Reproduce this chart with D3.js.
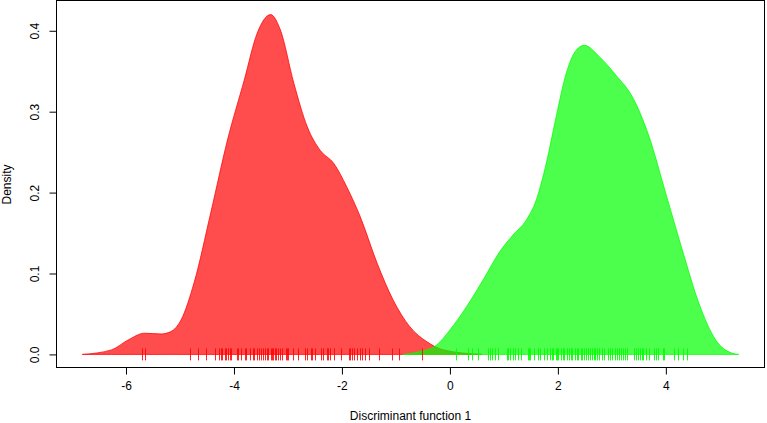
<!DOCTYPE html>
<html>
<head>
<meta charset="utf-8">
<script src="https://cdn.jsdelivr.net/npm/d3@7"></script>
<style>
  body { margin: 0; background: #fff; }
  svg text { font-family: "Liberation Sans", Arial, sans-serif; font-size: 12px; fill: #000; }
</style>
</head>
<body>
<div id="container"></div>
<script>
/* Data */

// density curve of group 1 (red), x = discriminant score, y = density
var redX = [-6.81, -6.27, -5.96, -5.66, -5.35, -5.17, -4.98, -4.74, -4.43, -4.12, -3.81, -3.57, -3.32,
	-3.14, -2.89, -2.64, -2.40, -2.15, -1.91, -1.66, -1.35, -1.05, -0.74, -0.43, -0.12, 0.585];
var redY = [0, 0.0056, 0.0179, 0.0262, 0.0253, 0.0282, 0.0426, 0.0883, 0.175, 0.265, 0.339, 0.397, 0.420,
	0.401, 0.335, 0.281, 0.252, 0.236, 0.207, 0.170, 0.113, 0.067, 0.034, 0.0158, 0.0056, 0];

// density curve of group 2 (green)
var greenX = [-0.867, -0.554, -0.245, 0, 0.308, 0.614, 0.923, 1.168, 1.415, 1.60, 1.784, 1.969, 2.153,
	2.338, 2.491, 2.768, 3.076, 3.382, 3.69, 3.998, 4.305, 4.613, 4.921, 5.227, 5.35];
var greenY = [0, 0.0035, 0.0117, 0.0302, 0.059, 0.092, 0.127, 0.1475, 0.166, 0.191, 0.236, 0.294, 0.347,
	0.376, 0.382, 0.368, 0.345, 0.318, 0.269, 0.199, 0.129, 0.063, 0.018, 0.0015, 0];

// rug: individual scores
var redRug = [-5.71, -5.64, -4.81, -4.67, -4.51, -4.35, -4.27, -4.24, -4.22, -4.16, -4.14, -4.11, -4.08, -4.06,
	-3.94, -3.92, -3.87, -3.80, -3.77, -3.71, -3.65, -3.62, -3.58, -3.54, -3.49, -3.46, -3.43, -3.39, -3.37,
	-3.32, -3.29, -3.27, -3.24, -3.22, -3.18, -3.14, -3.11, -3.04, -3.01, -2.99, -2.91, -2.82, -2.69, -2.64,
	-2.58, -2.56, -2.50, -2.38, -2.36, -2.27, -2.25, -2.23, -2.15, -2.02, -1.86, -1.85, -1.81, -1.77, -1.73,
	-1.67, -1.62, -1.57, -1.49, -1.32, -1.07, -0.94, -0.52];
var greenRug = [0.12, 0.34, 0.40, 0.52, 0.71, 0.75, 0.78, 0.83, 0.90, 1.05, 1.08, 1.12, 1.17, 1.21, 1.26, 1.32,
	1.44, 1.47, 1.49, 1.55, 1.64, 1.67, 1.75, 1.80, 1.86, 1.89, 1.91, 1.96, 1.99, 2.01, 2.05, 2.09, 2.12, 2.16,
	2.21, 2.25, 2.27, 2.32, 2.36, 2.38, 2.42, 2.45, 2.49, 2.52, 2.55, 2.59, 2.63, 2.66, 2.69, 2.73, 2.77, 2.81,
	2.86, 2.92, 2.96, 3.01, 3.05, 3.09, 3.14, 3.17, 3.21, 3.25, 3.28, 3.41, 3.45, 3.49, 3.52, 3.55, 3.58, 3.63,
	3.68, 3.78, 3.82, 3.86, 3.94, 3.97, 4.16, 4.23, 4.32, 4.39];

var xTicks = [-6, -4, -2, 0, 2, 4];
var yTicks = [0, 0.1, 0.2, 0.3, 0.4];

/* Setup */
var w = 767, h = 423;
var box = { left: 56, right: 765, top: 1, bottom: 368 };

var svg = d3.select('#container').append('svg')
	.attr('width', w)
	.attr('height', h);

// R style: limits padded 4% beyond the data range
var xMin = d3.min(redX), xMax = d3.max(greenX),
	xPad = (xMax - xMin) * 0.04,
	yMax = d3.max(redY.concat(greenY)),
	yPad = yMax * 0.04;

var xScale = d3.scaleLinear()
		.domain([xMin - xPad, xMax + xPad])
		.range([box.left, box.right]),
	yScale = d3.scaleLinear()
		.domain([-yPad, yMax + yPad])
		.range([box.bottom, box.top]);

/* Density areas */
var area = d3.area()
	.x(d => xScale(d.x))
	.y0(yScale(0))
	.y1(d => yScale(d.y))
	.curve(d3.curveMonotoneX);

var redData = redX.map((x, i) => ({ x: x, y: redY[i] })),
	greenData = greenX.map((x, i) => ({ x: x, y: greenY[i] }));

svg.append('path')
	.attr('d', area(redData))
	.attr('fill', 'rgba(255,0,0,0.7)')
	.attr('stroke', 'rgba(255,0,0,0.75)')
	.attr('stroke-width', 1);

svg.append('path')
	.attr('d', area(greenData))
	.attr('fill', 'rgba(0,255,0,0.7)')
	.attr('stroke', 'rgba(0,255,0,0.75)')
	.attr('stroke-width', 1);

/* Rugs */
function rug(values, colour) {
	svg.append('g')
		.selectAll('line')
		.data(values)
		.enter().append('line')
		.attr('x1', d => Math.round(xScale(d)) + 0.5)
		.attr('x2', d => Math.round(xScale(d)) + 0.5)
		.attr('y1', yScale(0) - 6)
		.attr('y2', yScale(0) + 6)
		.attr('stroke', colour)
		.attr('stroke-width', 1);
}
rug(redRug, 'rgba(255,0,0,0.85)');
rug(greenRug, 'rgba(0,255,0,0.9)');

/* Box */
svg.append('rect')
	.attr('x', box.left + 0.5)
	.attr('y', box.top - 0.5)
	.attr('width', box.right - box.left - 1)
	.attr('height', box.bottom - box.top)
	.attr('fill', 'none')
	.attr('stroke', '#000');

/* Axes */
var xAxis = d3.axisBottom(xScale)
	.tickValues(xTicks)
	.tickSize(7)
	.tickPadding(7)
	.tickFormat(d3.format('d'));

svg.append('g')
	.classed('xaxis', true)
	.attr('transform', 'translate(0,' + (box.bottom - 0.5) + ')')
	.call(xAxis)
	.call(g => g.select('.domain').remove())
	.selectAll('text')
		.style('font-size', '12px')
		.text(d => d < 0 ? '-' + Math.abs(d) : d);

var yAxis = d3.axisLeft(yScale)
	.tickValues(yTicks)
	.tickSize(7)
	.tickFormat(d3.format('.1f'));

var yG = svg.append('g')
	.classed('yaxis', true)
	.attr('transform', 'translate(' + (box.left + 0.5) + ',0)')
	.call(yAxis);
yG.select('.domain').remove();
yG.selectAll('text')
	.attr('x', null)
	.attr('dy', null)
	.attr('transform', 'translate(-21,0) rotate(-90)')
	.attr('text-anchor', 'middle')
	.attr('dominant-baseline', 'middle')
	.style('font-size', '12px');

/* Titles */
svg.append('text')
	.attr('x', (box.left + box.right) / 2)
	.attr('y', 420)
	.attr('text-anchor', 'middle')
	.text('Discriminant function 1');

svg.append('text')
	.attr('transform', 'translate(8,' + (box.top + box.bottom) / 2 + ') rotate(-90)')
	.attr('text-anchor', 'middle')
	.attr('dominant-baseline', 'middle')
	.text('Density');
</script>
</body>
</html>
